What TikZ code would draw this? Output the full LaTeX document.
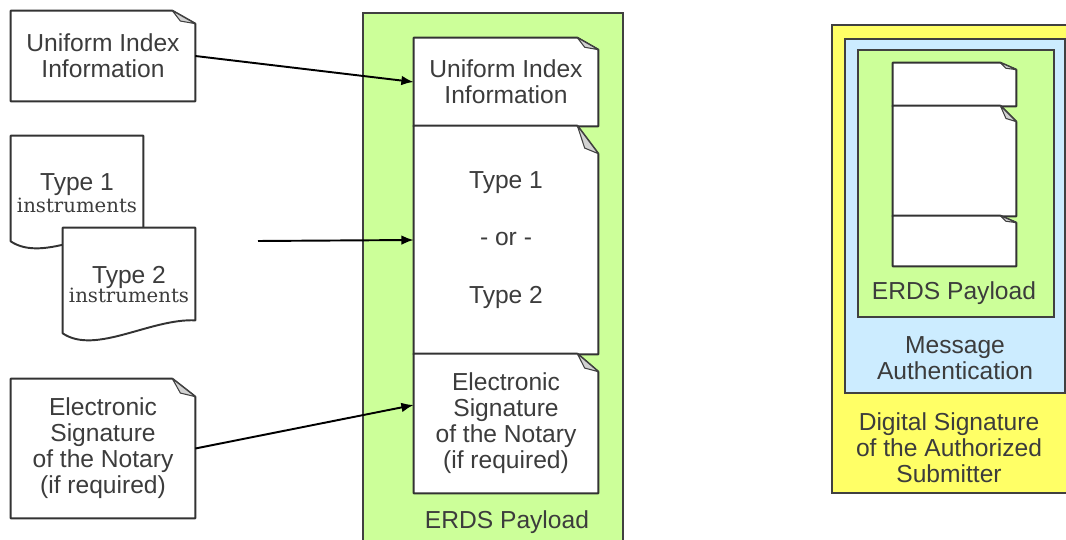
\documentclass[tikz,border=0pt]{standalone}
\usepackage{fontspec}
\setmainfont{Liberation Sans}
\newfontfamily\slabfont{DejaVu Serif}
\usetikzlibrary{calc, arrows.meta}

\definecolor{payloadgreen}{RGB}{204,255,153}
\definecolor{authblue}{RGB}{204,236,255}
\definecolor{sigyellow}{RGB}{255,255,102}
\definecolor{inkgray}{RGB}{60,60,60}

\pgfdeclarelayer{bg}
\pgfsetlayers{bg,main}

\tikzset{
	doc/.style={rectangle, inner sep=0pt, align=center, text=inkgray, font=\fontsize{14}{14.8}\selectfont},
	docline/.style={draw=black!80, line width=1.1pt, fill=white, line join=round},
	fold/.style={draw=black!75, line width=.6pt, fill=gray!35, line join=round},
	container/.style={rectangle, draw=black!75, line width=.8pt, inner sep=0pt},
	caption/.style={text=inkgray, align=center, font=\fontsize{14}{14.8}\selectfont},
	link/.style={-{Latex[length=7pt,width=5.5pt]}, line width=1.1pt}
}

\begin{document}
\begin{tikzpicture}[x=0.02cm, y=-0.02cm]
			\useasboundingbox (0,0) rectangle (1066,540);
			% containers
			\begin{pgfonlayer}{bg}
				\node[container, fill=payloadgreen, minimum width=5.2cm, minimum height=10.6cm] (payload) at (493,278) {};
				\node[container, fill=sigyellow, line width=1.1pt, minimum width=4.92cm, minimum height=9.36cm] (sig) at (955,259) {};
				\node[container, fill=authblue, minimum width=4.4cm, minimum height=7.08cm] (auth) at (955,216) {};
				\node[container, fill=payloadgreen, minimum width=3.92cm, minimum height=5.34cm] (rpayload) at (956,183.5) {};
			\end{pgfonlayer}
			% left documents
			\node[doc, minimum width=3.68cm, minimum height=1.8cm] (uiiL) at (103,56) {Uniform Index\\Information};
			\node[doc, minimum width=2.64cm, minimum height=2.28cm] (type1L) at (77,193) {Type 1\\[-2pt]{\slabfont\fontsize{11.2}{13}\selectfont instruments}};
			\node[doc, minimum width=2.64cm, minimum height=2.28cm] (type2L) at (129,285) {Type 2\\[-4pt]{\slabfont\fontsize{11.2}{13}\selectfont instruments}};
			\node[doc, minimum width=3.68cm, minimum height=2.78cm] (esnL) at (103,448.5) {Electronic\\Signature\\of the Notary\\(if required)};
			% payload documents
			\node[doc, minimum width=3.68cm, minimum height=1.76cm] (uiiP) at (506,82) {Uniform Index\\Information};
			\node[doc, minimum width=3.68cm, minimum height=4.56cm] (typeP) at (506,240) {Type 1\\[18pt]- or -\\[18pt]Type 2};
			\node[doc, minimum width=3.68cm, minimum height=2.78cm] (esnP) at (506,423.5) {Electronic\\Signature\\of the Notary\\(if required)};
			\node[caption] (payloadtxt) at (507,522) {ERDS Payload};
			% right side
			\node[doc, minimum width=2.46cm, minimum height=.86cm] (rTop) at (954.5,84.5) {};
			\node[doc, minimum width=2.46cm, minimum height=2.2cm] (rMid) at (954.5,161) {};
			\node[doc, minimum width=2.46cm, minimum height=1cm] (rBot) at (954.5,241) {};
			\node[caption] (rpayloadtxt) at (954,293) {ERDS Payload};
			\node[caption] (authtxt) at (955,358) {Message\\Authentication};
			\node[caption] (sigtxt) at (949,448) {Digital Signature\\of the Authorized\\Submitter};
			% outlines
			\begin{pgfonlayer}{bg}
				\foreach \n in {type1L,type2L}
					\draw[docline] (\n.north west) -- (\n.north east) -- ($(\n.south east)+(0,-22)$) .. controls ($(\n.south east)+(-45,-24)$) and ($(\n.south east)+(-100,13)$) .. ($(\n.south west)+(0,-9)$) -- cycle;
				\foreach \n/\w/\h in {uiiL/23/13, esnL/23/18, uiiP/21/12, typeP/21/28, esnP/21/18, rTop/16/7, rMid/16/16, rBot/16/7} {
					\draw[docline] (\n.north west) -- ($(\n.north east)+(-\w,0)$) -- ($(\n.north east)+(0,\h)$) -- (\n.south east) -- (\n.south west) -- cycle;
					\draw[fold] ($(\n.north east)+(-\w,0)$) -- ($(\n.north east)+(-.65*\w,.8*\h)$) -- ($(\n.north east)+(0,\h)$) -- cycle;
				}
			\end{pgfonlayer}
			% connectors
			\coordinate (typeIn) at (258,241);
			\draw[link] (uiiL.east) -- (uiiP.west);
			\draw[link] (typeIn) -- (typeP.west);
			\draw[link] (esnL.east) -- ([yshift=.37cm]esnP.west);
		\end{tikzpicture}
\end{document}
